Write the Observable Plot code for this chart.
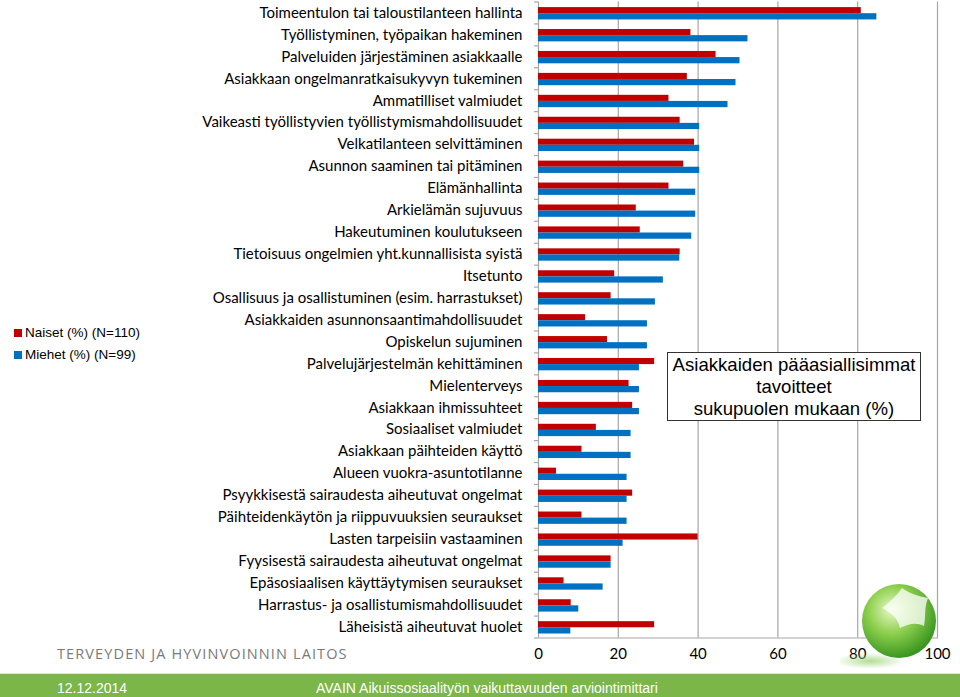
<!DOCTYPE html>
<html>
<head>
<meta charset="utf-8">
<script src="https://cdn.jsdelivr.net/npm/d3@7"></script>
<script src="https://cdn.jsdelivr.net/npm/@observablehq/plot@0.6"></script>
<style>
  html, body { margin: 0; padding: 0; background: #fff; }
  #wrap { position: relative; width: 960px; height: 697px; overflow: hidden; font-family: "Liberation Sans", Arial, sans-serif; }
  #chart { position: absolute; left: 0; top: 0; }
  .legend { position: absolute; left: 14px; font-size: 13.5px; color: #000; line-height: 16px; white-space: nowrap; }
  .legend span.sw { display: inline-block; width: 8px; height: 8px; margin-right: 3px; vertical-align: 0px; }
  #titlebox { position: absolute; left: 667px; top: 352px; width: 252px; height: 66px; border: 1.3px solid #333; background: #fff;
    font-size: 18.6px; line-height: 22px; text-align: center; color: #000; padding-top: 1px; box-sizing: content-box; white-space: nowrap; }
  #org { position: absolute; left: 57px; top: 644px; font-family: "Open Sans", sans-serif; font-size: 14.5px; color: #7a7a7a; letter-spacing: 1.12px; white-space: nowrap; }
  #band { position: absolute; left: 0; top: 673px; width: 960px; height: 24px; background: #7ab648; border-top: 1px solid #d9ead0; }
  .foot { position: absolute; top: 680px; font-size: 14px; color: #fff; white-space: nowrap; }
  #logo { position: absolute; left: 840px; top: 576px; }
</style>
</head>
<body>
<div id="wrap">
  <div id="chart"></div>
  <div class="legend" style="top:325px"><span class="sw" style="background:#C00000"></span>Naiset (%) (N=110)</div>
  <div class="legend" style="top:347px"><span class="sw" style="background:#0070C0"></span>Miehet (%) (N=99)</div>
  <div id="titlebox">Asiakkaiden pääasiallisimmat<br>tavoitteet<br>sukupuolen mukaan (%)</div>
  <svg id="logo" width="110" height="95" viewBox="0 0 110 95">
    <defs>
      <radialGradient id="sph" cx="0.4" cy="0.35" r="0.7">
        <stop offset="0" stop-color="#e6f9c8"/>
        <stop offset="0.45" stop-color="#8fd04f"/>
        <stop offset="1" stop-color="#2f8f1a"/>
      </radialGradient>
      <radialGradient id="shd" cx="0.5" cy="0.5" r="0.5">
        <stop offset="0" stop-color="#9fd67a" stop-opacity="0.8"/>
        <stop offset="1" stop-color="#9fd67a" stop-opacity="0"/>
      </radialGradient>
    </defs>
    <ellipse cx="30" cy="85" rx="35" ry="8" fill="url(#shd)"/>
    <circle cx="59" cy="45" r="37" fill="url(#sph)"/>
    <path d="M62,12 C70,18 78,20 88,22 C84,32 86,40 84,50 C76,46 68,48 60,52 C58,42 50,36 42,32 C50,26 56,20 62,12 Z" fill="#ffffff" fill-opacity="0.75"/>
  </svg>
  <div id="org">TERVEYDEN JA HYVINVOINNIN LAITOS</div>
  <div id="band"></div>
  <div class="foot" style="left:57px">12.12.2014</div>
  <div class="foot" style="left:316px">AVAIN Aikuissosiaalityön vaikuttavuuden arviointimittari</div>
</div>
<script>
const categories = [
  "Toimeentulon tai taloustilanteen hallinta",
  "Työllistyminen, työpaikan hakeminen",
  "Palveluiden järjestäminen asiakkaalle",
  "Asiakkaan ongelmanratkaisukyvyn tukeminen",
  "Ammatilliset valmiudet",
  "Vaikeasti työllistyvien työllistymismahdollisuudet",
  "Velkatilanteen selvittäminen",
  "Asunnon saaminen tai pitäminen",
  "Elämänhallinta",
  "Arkielämän sujuvuus",
  "Hakeutuminen koulutukseen",
  "Tietoisuus ongelmien yht.kunnallisista syistä",
  "Itsetunto",
  "Osallisuus ja osallistuminen (esim. harrastukset)",
  "Asiakkaiden asunnonsaantimahdollisuudet",
  "Opiskelun sujuminen",
  "Palvelujärjestelmän kehittäminen",
  "Mielenterveys",
  "Asiakkaan ihmissuhteet",
  "Sosiaaliset valmiudet",
  "Asiakkaan päihteiden käyttö",
  "Alueen vuokra-asuntotilanne",
  "Psyykkisestä sairaudesta aiheutuvat ongelmat",
  "Päihteidenkäytön ja riippuvuuksien seuraukset",
  "Lasten tarpeisiin vastaaminen",
  "Fyysisestä sairaudesta aiheutuvat ongelmat",
  "Epäsosiaalisen käyttäytymisen seuraukset",
  "Harrastus- ja osallistumismahdollisuudet",
  "Läheisistä aiheutuvat huolet"
];
const naiset = [80.9, 38.2, 44.5, 37.3, 32.7, 35.5, 39.1, 36.4, 32.7, 24.5, 25.5, 35.5, 19.1, 18.2, 11.8, 17.3, 29.1, 22.7, 23.6, 14.5, 10.9, 4.5, 23.6, 10.9, 40.0, 18.2, 6.4, 8.2, 29.1];
const miehet = [84.8, 52.5, 50.5, 49.5, 47.5, 40.4, 40.4, 40.4, 39.4, 39.4, 38.4, 35.4, 31.3, 29.3, 27.3, 27.3, 25.3, 25.3, 25.3, 23.2, 23.2, 22.2, 22.2, 22.2, 21.2, 18.2, 16.2, 10.1, 8.1];
const xTicks = [0, 20, 40, 60, 80, 100];

const rows = categories.map((c, i) => ({cat: c, naiset: naiset[i], miehet: miehet[i]}));
const bandH = (637.5 - 1.5) / categories.length;

const chart = Plot.plot({
  width: 960,
  height: 670,
  marginLeft: 538,
  marginRight: 23,
  marginTop: 1.5,
  marginBottom: 32.5,
  style: {fontFamily: "Lato, sans-serif", color: "#000", background: "transparent", overflow: "visible"},
  x: {domain: [0, 100], ticks: xTicks},
  y: {domain: categories, padding: 0, round: false},
  marks: [
    Plot.ruleX(xTicks, {stroke: "#a6a6a6", strokeWidth: 1.2, strokeOpacity: 1}),
    Plot.barX(rows, {y: "cat", x: "naiset", fill: "#C00000", insetTop: 5.6, insetBottom: bandH - 11.7}),
    Plot.barX(rows, {y: "cat", x: "miehet", fill: "#0070C0", insetTop: 11.7, insetBottom: 4.0}),
    Plot.frame({anchor: "bottom", stroke: "#a6a6a6", strokeWidth: 1.2}),
    Plot.ruleY(categories, {y: d => d, x1: -1, x2: 0, dy: -bandH / 2, stroke: "#a6a6a6", strokeWidth: 1.2, clip: false}),
    Plot.ruleY(categories.slice(-1), {y: d => d, x1: -1, x2: 0, dy: bandH / 2, stroke: "#a6a6a6", strokeWidth: 1.2, clip: false}),
    Plot.axisY({tickSize: 0, tickPadding: 16, fontSize: 15, label: null}),
    Plot.axisX({ticks: xTicks, tickSize: 0, tickPadding: 10, fontSize: 15, label: null})
  ]
});
document.getElementById("chart").appendChild(chart);
</script>
</body>
</html>
